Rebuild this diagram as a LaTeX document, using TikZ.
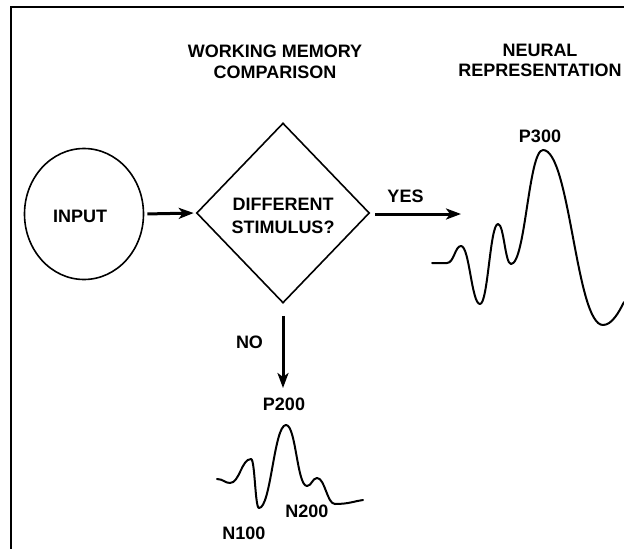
\documentclass[tikz,border=0pt]{standalone}
\usepackage{fontspec}
\setmainfont{Liberation Sans}
\usetikzlibrary{shapes.geometric,arrows.meta}
\begin{document}
\begin{tikzpicture}[x=1pt,y=-1pt,
  lbl/.style={font=\fontsize{18}{21}\selectfont\bfseries, anchor=base, inner sep=0pt},
  arr/.style={line width=3pt, -{Stealth[length=15pt,width=11pt,inset=4pt]}},
  wave/.style={line width=2pt, line join=round, line cap=round},
  outline/.style={draw, line width=1.6pt, inner sep=0pt}]
\useasboundingbox (0,0) rectangle (624,549);
\fill[white] (0,0) rectangle (624,549);
% frame
\draw[line width=1.6pt] (11,549) -- (11,7) -- (624,7);

% titles
\node[lbl] (t1a) at (275,57) {WORKING MEMORY};
\node[lbl] (t1b) at (275,78) {COMPARISON};
\node[lbl] (t2a) at (540,56) {NEURAL};
\node[lbl] (t2b) at (540,76) {REPRESENTATION};

% input
\node[outline, ellipse, minimum width=119pt, minimum height=131pt] (input) at (84,214) {};
\node[lbl] (inputtxt) at (80,222) {INPUT};

% diamond
\node[outline, diamond, minimum width=173pt, minimum height=180pt] (diam) at (283,213) {};
\node[lbl] (d1) at (283,210) {DIFFERENT};
\node[lbl] (d2) at (283,233) {STIMULUS?};

% arrows
\coordinate (yesend) at (461,214);
\coordinate (noend) at (283,388);
\draw[arr, shorten <=3pt, shorten >=2pt] (input.east) -- (diam.west);
\draw[arr, shorten <=5pt] (diam.east |- yesend) -- (yesend);
\draw[arr, shorten <=12pt] (diam.south) -- (noend);
\node[lbl] (yes) at (405.5,202) {YES};
\node[lbl] (no) at (249.5,348) {NO};

% P300 waveform
\node[lbl] (p300) at (540,142) {P300};
\draw[wave] (432,263) -- (447,263)
  .. controls (454,263) and (455,246) .. (461,246)
  .. controls (469.5,246) and (471.5,304) .. (480,304)
  .. controls (488,304) and (490,224) .. (498,224)
  .. controls (504,224) and (505,264) .. (511,264)
  .. controls (525.5,264) and (528.5,150) .. (543,150)
  .. controls (570,150) and (576,325) .. (603,325)
  .. controls (612,325) and (619,312) .. (624,302);

% P200 waveform
\node[lbl] (p200) at (284,410) {P200};
\node[lbl] (n100) at (244,539) {N100};
\node[lbl] (n200) at (307,517) {N200};
\draw[wave] (217,479)
  .. controls (223,479) and (225,483) .. (230,483)
  .. controls (239.5,483) and (241.5,459) .. (251,459)
  .. controls (255,459) and (255,508) .. (259,508)
  .. controls (271,508) and (274,425) .. (286,425)
  .. controls (296,425) and (297,486) .. (307,486)
  .. controls (311.5,486) and (312.5,478) .. (317,478)
  .. controls (325,478) and (327,504) .. (335,504)
  .. controls (349,504) and (355,501) .. (363,500);
\end{tikzpicture}
\end{document}
